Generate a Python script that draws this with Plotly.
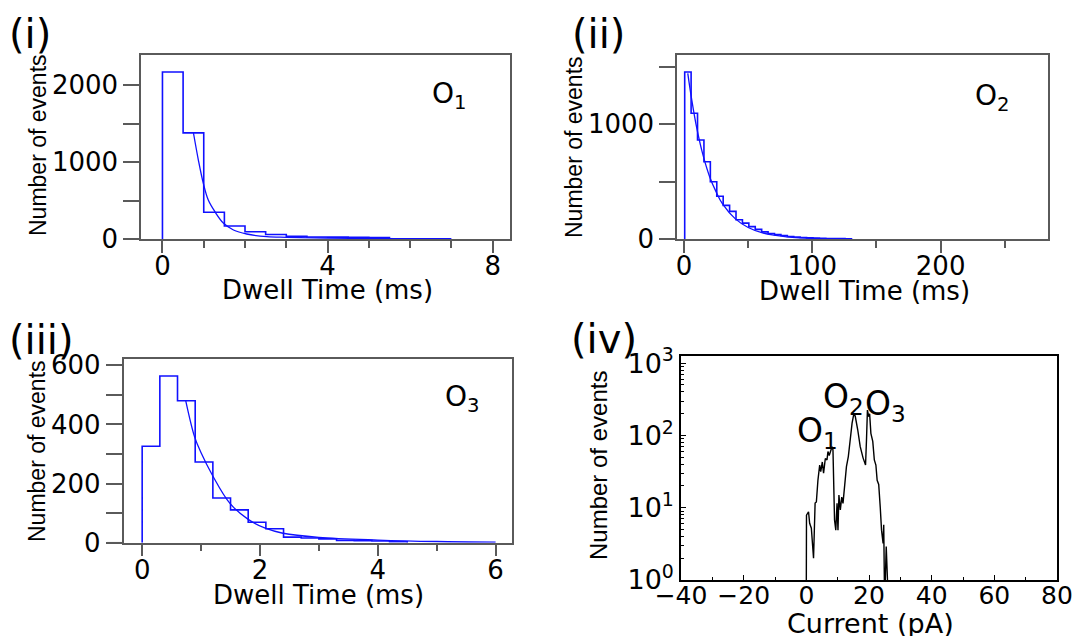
import plotly.graph_objects as go

W, H = 1078, 636

# ---------------- data ----------------
# (i) O1 dwell-time histogram (ms) and exponential fit
i_edges = [0.0, 0.5, 1.0, 1.5, 2.0, 2.5, 3.0, 3.5, 4.0, 4.5, 5.0, 5.5]
i_counts = [2170, 1378, 347, 168, 95, 58, 35, 26, 24, 22, 20]
i_fit_t = [0.75, 0.87, 0.99, 1.11, 1.28, 1.48, 1.72, 2.04, 2.53, 3.01, 3.98, 5.0, 6.0, 7.0]
i_fit_y = [1380, 1026, 723, 506, 347, 204, 117, 65, 30, 22, 13, 8, 5, 3]

# (ii) O2 dwell-time histogram (ms) and exponential fit
ii_edges = [0.5, 5.5, 10.5, 15.5, 20.5, 25.5, 30.5, 35.5, 40.5, 45.5, 50.5, 55.5, 60.5,
            65.5, 70.5, 75.5, 80.5, 85.5, 90.5, 95.5, 100.5, 105.5, 110.5, 115.5, 120.5, 125.5, 130.5]
ii_counts = [1452, 1093, 861, 672, 498, 372, 292, 240, 168, 138, 108, 84, 62,
             48, 38, 30, 22, 17, 13, 10, 8, 6, 5, 4, 3, 2]
ii_fit_t = [2.9, 6, 10, 15, 20, 25, 30, 40, 50, 60, 70, 80, 90, 100, 115, 130]
ii_fit_y = [1440, 1210, 960, 720, 540, 410, 305, 175, 100, 57, 33, 19, 11, 6, 3, 1]

# (iii) O3 dwell-time histogram (ms) and exponential fit
iii_edges = [0.0, 0.3, 0.6, 0.9, 1.2, 1.5, 1.8, 2.1, 2.4, 2.7, 3.0, 3.3, 3.6, 3.9, 4.2, 4.5]
iii_counts = [326, 564, 480, 273, 151, 111, 69, 47, 19, 16, 13, 8, 7, 6, 3]
iii_fit_t = [0.74, 0.89, 1.0, 1.19, 1.49, 1.8, 2.09, 2.39, 3.0, 4.0, 5.0, 6.0]
iii_fit_y = [480, 358, 304, 229, 133, 79, 49, 32, 18, 9, 4, 2]

# (iv) current histogram (pA), log counts
iv_current = [0.0, 0.05, 0.7, 1.06, 1.6, 2.3, 2.8, 3.2, 3.7, 4.26, 4.6, 5.1, 5.5, 6.06, 6.6, 6.9,
              7.3, 7.9, 8.2, 8.5, 9.0, 9.4, 9.8, 10.1, 10.4, 10.85, 11.3, 11.7, 12.1, 12.8, 13.4,
              14.0, 14.6, 15.1, 15.6, 16.4, 17.2, 18.1, 18.9, 19.2, 19.5, 19.9, 20.2, 20.6, 21.2,
              21.7, 22.2, 22.6, 23.1, 23.6, 24.0, 24.5, 24.7, 24.9, 25.2, 25.5, 25.9]
iv_events = [1, 7.9, 8.8, 6.1, 5.2, 2.0, 11.6, 12, 24, 39, 31.6, 43, 30, 48, 46, 60,
             53, 66, 70, 63, 6.8, 4.9, 11.5, 4.9, 15, 9.3, 14, 11.5, 19.6, 37, 51,
             92, 148, 193, 186, 120, 70, 49, 39, 87, 225, 182, 200, 107, 83,
             46, 39, 24, 21, 10, 4.9, 3.2, 5.8, 1, 1, 2.9, 1]

# tick labels
iv_ytickvals = [1, 10, 100, 1000]
iv_yticktext = ["10<sup>0</sup>", "10<sup>1</sup>", "10<sup>2</sup>", "10<sup>3</sup>"]

# ---------------- helpers ----------------
def px_x(x):
    return x / W

def px_y(y):
    return 1 - y / H

def step_xy(edges, counts):
    xs = [edges[0]] + list(edges)
    ys = [0] + list(counts) + [0]
    return xs, ys

BLUE = "#1010ff"
FRAME = "#5a5a5a"
TFONT = "DejaVu Sans"
YFONT = "Liberation Sans"

fig = go.Figure()

panels = [
    ("x", "y", i_edges, i_counts, i_fit_t, i_fit_y),
    ("x2", "y2", ii_edges, ii_counts, ii_fit_t, ii_fit_y),
    ("x3", "y3", iii_edges, iii_counts, iii_fit_t, iii_fit_y),
]
for xa, ya, e, c, ft, fy in panels:
    sx, sy = step_xy(e, c)
    fig.add_trace(go.Scatter(x=sx, y=sy, mode="lines", line=dict(color=BLUE, width=1.6, shape="hv"),
                             xaxis=xa, yaxis=ya, showlegend=False, hoverinfo="skip"))
    fig.add_trace(go.Scatter(x=ft, y=fy, mode="lines", line=dict(color=BLUE, width=1.3, shape="spline"),
                             xaxis=xa, yaxis=ya, showlegend=False, hoverinfo="skip"))

fig.add_trace(go.Scatter(x=iv_current, y=iv_events, mode="lines", line=dict(color="black", width=1.4),
                         xaxis="x4", yaxis="y4", showlegend=False, hoverinfo="skip"))

# panel boxes in pixels: (left, right, top, bottom)
boxes = {
    1: (141, 510, 55, 239),
    2: (677, 1048, 55, 239),
    3: (123.5, 511.5, 358.5, 542.7),
    4: (681, 1057, 356, 580),
}

def xdom(b):
    return [px_x(b[0]), px_x(b[1])]

def ydom(b):
    return [px_y(b[3]), px_y(b[2])]

tickfont = dict(family=TFONT, size=26, color="black")

def xax(b, rng, dtick, minor_dtick, anchor):
    return dict(domain=xdom(b), range=rng, anchor=anchor, showgrid=False, zeroline=False,
                automargin=False, tickangle=0, ticklabelstandoff=-9,
                showline=True, mirror=True, linecolor=FRAME, linewidth=1.5,
                ticks="outside", ticklen=12, tickwidth=1.5, tickcolor=FRAME,
                tick0=0, dtick=dtick, tickfont=tickfont,
                minor=dict(dtick=minor_dtick, ticklen=7, tickwidth=1.5, tickcolor=FRAME, ticks="outside"))

def yax(b, rng, dtick, minor_dtick, anchor):
    return dict(domain=ydom(b), range=rng, anchor=anchor, showgrid=False, zeroline=False,
                automargin=False, tickangle=0,
                showline=True, mirror=True, linecolor=FRAME, linewidth=1.5,
                ticks="outside", ticklen=16, tickwidth=1.5, tickcolor=FRAME,
                tick0=0, dtick=dtick, tickfont=tickfont,
                minor=dict(dtick=minor_dtick, ticklen=16, tickwidth=1.5, tickcolor=FRAME, ticks="outside"))

layout = dict(
    width=W, height=H, margin=dict(l=0, r=0, t=0, b=0, autoexpand=False),
    paper_bgcolor="white", plot_bgcolor="white", showlegend=False,
    xaxis=xax(boxes[1], [-0.52, 8.42], 4, 1, "y"),
    yaxis=yax(boxes[1], [0, 2390], 1000, 500, "x"),
    xaxis2=xax(boxes[2], [-5.5, 283.7], 100, 50, "y2"),
    yaxis2=yax(boxes[2], [0, 1600], 1000, 500, "x2"),
    xaxis3=xax(boxes[3], [-0.317, 6.27], 2, 1, "y3"),
    yaxis3=yax(boxes[3], [0, 623], 200, 100, "x3"),
    xaxis4=dict(domain=xdom(boxes[4]), range=[-40, 80], anchor="y4", showgrid=False, zeroline=False,
                automargin=False, tickangle=0, ticklabelstandoff=-8,
                showline=True, mirror=True, linecolor="black", linewidth=1.5,
                ticks="inside", ticklen=5, tickwidth=1.3, tickcolor="black",
                tick0=0, dtick=20, tickfont=dict(family=TFONT, size=25, color="black"),
                minor=dict(dtick=10, ticklen=3, ticks="inside", tickcolor="black")),
    yaxis4=dict(domain=ydom(boxes[4]), type="log", range=[0, 3.1], anchor="x4", showgrid=False,
                automargin=False, tickangle=0,
                zeroline=False, showline=True, mirror=True, linecolor="black", linewidth=1.5,
                ticks="inside", ticklen=5, tickwidth=1.3, tickcolor="black",
                tickvals=iv_ytickvals, ticktext=iv_yticktext,
                tickfont=dict(family=TFONT, size=27, color="black"),
                minor=dict(ticks="inside", ticklen=3, tickcolor="black", dtick="D1")),
)
fig.update_layout(**layout)

# baseline extensions to the left of frames (panels i-iii)
shapes = []
for k in (1, 2, 3):
    l, r, t, b = boxes[k]
    shapes.append(dict(type="line", xref="paper", yref="paper", x0=px_x(l - 17), x1=px_x(l),
                       y0=px_y(b), y1=px_y(b), line=dict(color=FRAME, width=1.5)))
fig.update_layout(shapes=shapes)

ann = []
def A(text, x, y, size, family=TFONT, angle=0):
    ann.append(dict(text=text, x=px_x(x), y=px_y(y), xref="paper", yref="paper", showarrow=False,
                    xanchor="center", yanchor="middle", textangle=angle,
                    font=dict(family=family, size=size, color="black")))

# panel labels
A("(i)", 30, 34, 40)
A("(ii)", 598, 34, 40)
A("(iii)", 41, 340, 40)
A("(iv)", 604, 339, 40)
# axis titles
A("Dwell Time (ms)", 327, 290, 26)
A("Dwell Time (ms)", 864, 291, 26)
A("Dwell Time (ms)", 318, 595, 26)
A("Current (pA)", 870, 623, 27)
A("Number of events", 38, 145, 23, YFONT, -90)
A("Number of events", 574, 147, 23, YFONT, -90)
A("Number of events", 37, 451, 23, YFONT, -90)
A("Number of events", 599, 466, 24, YFONT, -90)
# state labels
A("O<sub>1</sub>", 449, 95, 28)
A("O<sub>2</sub>", 992, 97, 28)
A("O<sub>3</sub>", 462, 398, 28)
A("O<sub>1</sub>", 817, 432, 33)
A("O<sub>2</sub>", 843, 398, 33)
A("O<sub>3</sub>", 885, 405, 33)
fig.update_layout(annotations=ann)

fig.write_html("out.html")
